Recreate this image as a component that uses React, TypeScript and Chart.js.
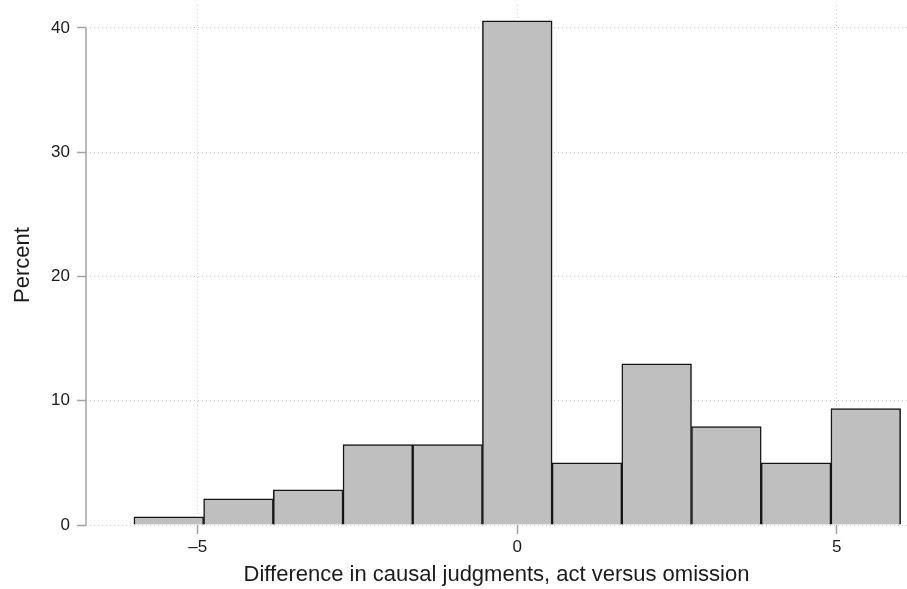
import React, { useEffect, useRef } from "react";
import { Chart, registerables } from "chart.js";

Chart.register(...registerables);

// Histogram bins (centres), percentages
const binCenters = [-5.4545, -4.3636, -3.2727, -2.1818, -1.0909, 0, 1.0909, 2.1818, 3.2727, 4.3636, 5.4545];
const percents = [0.65, 2.1, 2.83, 6.47, 6.47, 40.58, 5.0, 12.98, 7.92, 5.0, 9.36];
const xTicks = [-5, 0, 5];
const yTicks = [0, 10, 20, 30, 40];
const xTitle = "Difference in causal judgments, act versus omission";
const yTitle = "Percent";

const FONT = "'Liberation Sans', Arial, Helvetica, sans-serif";
const GRID = "#c9c9c9";
const AXIS = "#a3a3a3";

const yAxisLine = {
  id: "yAxisLine",
  afterDatasetsDraw(chart: any) {
    const y = chart.scales.y;
    const ctx = chart.ctx;
    const x = chart.chartArea.left;
    ctx.save();
    ctx.strokeStyle = AXIS;
    ctx.lineWidth = 1.5;
    ctx.beginPath();
    ctx.moveTo(x, y.getPixelForValue(yTicks[0]));
    ctx.lineTo(x, y.getPixelForValue(yTicks[yTicks.length - 1]));
    ctx.stroke();
    ctx.restore();
  },
};

export default function App() {
  const ref = useRef<HTMLCanvasElement | null>(null);
  useEffect(() => {
    if (!ref.current) return;
    const chart = new Chart(ref.current, {
      type: "bar",
      data: {
        datasets: [
          {
            data: binCenters.map((c, i) => ({ x: c, y: percents[i] })),
            backgroundColor: "#bfbfbf",
            borderColor: "#141414",
            borderWidth: 1.5,
            barPercentage: 1,
            categoryPercentage: 1,
          },
        ],
      },
      options: {
        animation: false,
        responsive: true,
        maintainAspectRatio: false,
        layout: { padding: { left: 0, right: 0, top: 5, bottom: 0 } },
        plugins: { legend: { display: false }, tooltip: { enabled: false } },
        scales: {
          x: {
            type: "linear",
            min: -6.75,
            max: 6.1,
            offset: false,
            afterBuildTicks: (s: any) => {
              s.ticks = xTicks.map((v) => ({ value: v }));
            },
            afterFit: (s: any) => {
              s.height = 64;
              s.paddingLeft = 0;
              s.paddingRight = 0;
            },
            ticks: {
              color: "#1a1a1a",
              font: { family: FONT, size: 17 },
              padding: 3,
              maxRotation: 0,
              autoSkip: false,
              callback: (v: any) => (Number(v) < 0 ? "\u2013" + Math.abs(Number(v)) : String(v)),
            },
            grid: {
              offset: false,
              color: GRID,
              tickColor: AXIS,
              tickLength: 9,
              tickWidth: 1.5,
              tickBorderDash: [],
              lineWidth: 1,
            },
            border: { display: false, dash: [1, 3] },
            title: {
              display: true,
              text: xTitle,
              color: "#1a1a1a",
              font: { family: FONT, size: 22 },
              padding: { top: 0, bottom: 1 },
            },
          },
          y: {
            type: "linear",
            min: 0,
            max: 41.85,
            afterBuildTicks: (s: any) => {
              s.ticks = yTicks.map((v) => ({ value: v }));
            },
            afterFit: (s: any) => {
              s.width = 86;
              s.paddingTop = 0;
              s.paddingBottom = 0;
            },
            ticks: {
              color: "#1a1a1a",
              font: { family: FONT, size: 17 },
              padding: 7,
              autoSkip: false,
            },
            grid: {
              color: GRID,
              tickColor: AXIS,
              tickLength: 9,
              tickWidth: 1.5,
              tickBorderDash: [],
              lineWidth: 1,
            },
            border: { display: false, dash: [1, 3] },
            title: {
              display: true,
              text: yTitle,
              color: "#1a1a1a",
              font: { family: FONT, size: 22 },
              padding: { top: 10, bottom: 0 },
            },
          },
        },
      },
      plugins: [yAxisLine],
    });
    return () => chart.destroy();
  }, []);
  return (
    <div style={{ position: "fixed", left: 0, top: 0, width: 907, height: 589, background: "#fff" }}>
      <canvas ref={ref} />
    </div>
  );
}
